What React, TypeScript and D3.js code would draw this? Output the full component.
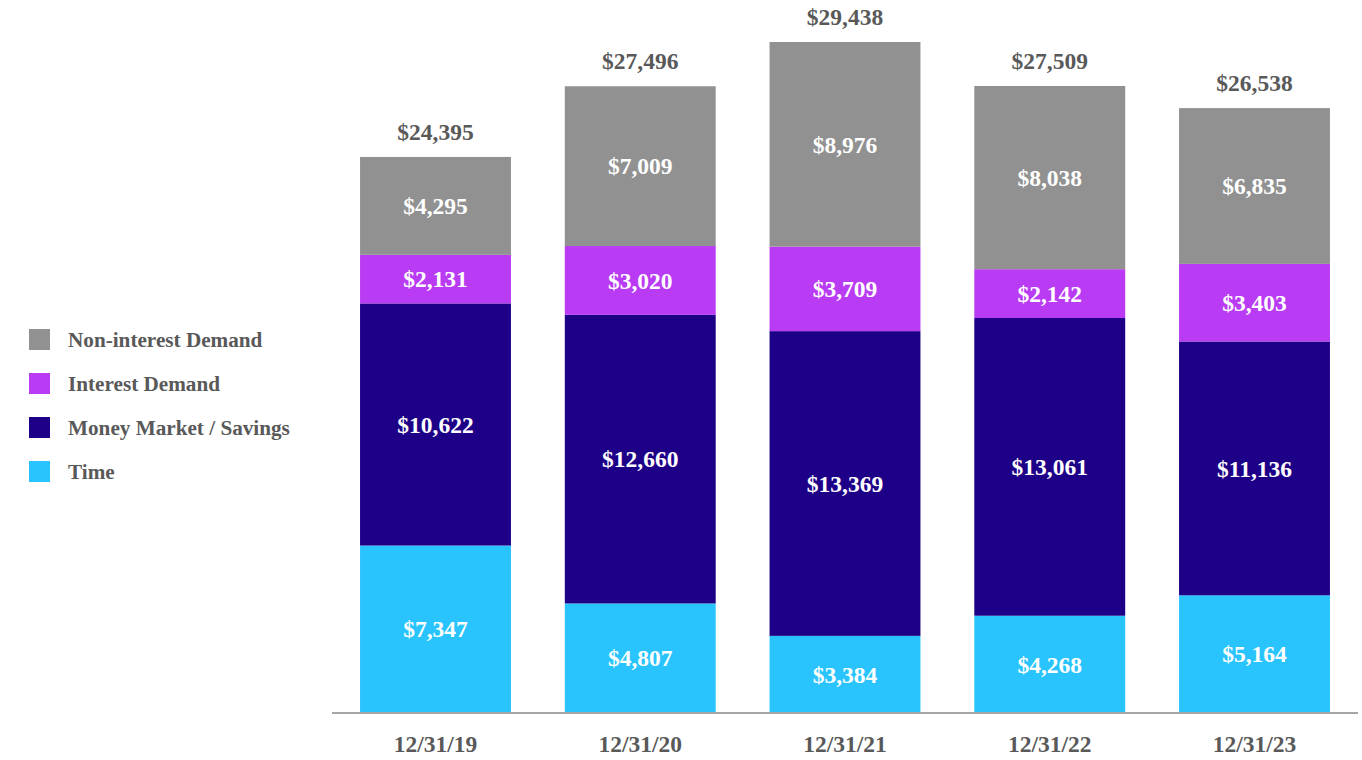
import React from "react";
import * as d3 from "d3";

const years = ["12/31/19", "12/31/20", "12/31/21", "12/31/22", "12/31/23"];
const time = [7347, 4807, 3384, 4268, 5164];
const moneyMarket = [10622, 12660, 13369, 13061, 11136];
const interestDemand = [2131, 3020, 3709, 2142, 3403];
const nonInterest = [4295, 7009, 8976, 8038, 6835];

const seriesKeys = ["time", "mm", "interest", "nonint"];
const seriesNames = ["Time", "Money Market / Savings", "Interest Demand", "Non-interest Demand"];
const seriesColors = ["#29c4fd", "#1e0088", "#b93bf3", "#919191"];

const W = 1362;
const H = 760;
const FONT = "'Liberation Serif', 'Times New Roman', serif";

const fmt = (v: number) => "$" + d3.format(",")(v);

export default function App() {
  const rows = years.map((y, i) => ({
    year: y,
    time: time[i],
    mm: moneyMarket[i],
    interest: interestDemand[i],
    nonint: nonInterest[i],
  }));
  const stacked = d3.stack<any>().keys(seriesKeys)(rows);
  const totals = rows.map((r) => r.time + r.mm + r.interest + r.nonint);

  // baseline ~713, largest total reaches y=42
  const y = d3.scaleLinear().domain([0, d3.max(totals) as number]).range([713, 42]);
  const x = d3
    .scaleBand()
    .domain(years)
    .range([332, 1358])
    .paddingInner(0.263)
    .paddingOuter(0.137);

  // legend top-down order
  const legendOrder = [3, 2, 1, 0];

  return (
    <svg
      width={W}
      height={H}
      style={{ position: "absolute", left: 0, top: 0, background: "#fff" }}
      fontFamily={FONT}
    >
      {stacked.map((s, si) => (
        <g key={s.key}>
          {s.map((d, i) => (
            <rect
              key={i}
              x={x(years[i])}
              y={y(d[1])}
              width={x.bandwidth()}
              height={y(d[0]) - y(d[1])}
              fill={seriesColors[si]}
            />
          ))}
          {s.map((d, i) => (
            <text
              key={"t" + i}
              x={(x(years[i]) as number) + x.bandwidth() / 2}
              y={(y(d[0]) + y(d[1])) / 2}
              dy="0.35em"
              textAnchor="middle"
              fill="#fff"
              fontWeight="bold"
              fontSize={23.5}
            >
              {fmt(d[1] - d[0])}
            </text>
          ))}
        </g>
      ))}

      {totals.map((t, i) => (
        <text
          key={i}
          x={(x(years[i]) as number) + x.bandwidth() / 2}
          y={y(t) - 17}
          textAnchor="middle"
          fill="#595959"
          fontWeight="bold"
          fontSize={23.5}
        >
          {fmt(t)}
        </text>
      ))}

      <line x1={332} x2={1358} y1={713} y2={713} stroke="#a6a6a6" strokeWidth={2} />

      {years.map((yr) => (
        <text
          key={yr}
          x={(x(yr) as number) + x.bandwidth() / 2}
          y={752}
          textAnchor="middle"
          fill="#595959"
          fontWeight="bold"
          fontSize={23.5}
        >
          {yr}
        </text>
      ))}

      {legendOrder.map((si, k) => (
        <g key={si} transform={`translate(29, ${329 + k * 44})`}>
          <rect width={21} height={21} fill={seriesColors[si]} />
          <text x={39} y={10.5} dy="0.35em" fill="#595959" fontWeight="bold" fontSize={21.2}>
            {seriesNames[si]}
          </text>
        </g>
      ))}
    </svg>
  );
}
